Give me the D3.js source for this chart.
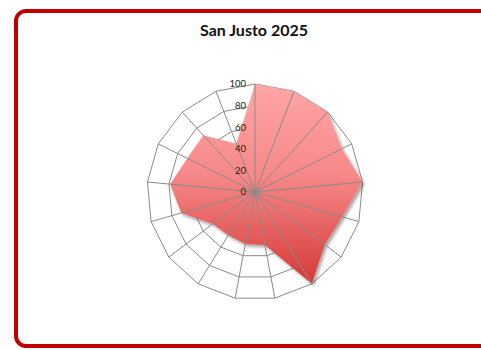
<!DOCTYPE html>
<html>
<head>
<meta charset="utf-8">
<script src="https://cdn.jsdelivr.net/npm/d3@7"></script>
<style>
  html, body { margin: 0; padding: 0; background: #fff; }
  svg { display: block; }
</style>
</head>
<body>
<svg id="chart" width="481" height="350"></svg>
<script>
// Seventeen radar axes, one score (0–100) per axis
const categories = ["1","2","3","4","5","6","7","8","9","10","11","12","13","14","15","16","17"];
const values = [100, 100, 100, 90, 100, 84, 81, 100, 50, 49, 47, 49, 71, 79, 70, 71, 48];
const tickValues = [0, 20, 40, 60, 80, 100];
const title = "San Justo 2025";

const svg = d3.select("#chart");
const cx = 255, cy = 192, R = 108;

const r = d3.scaleLinear().domain([0, 100]).range([0, R]);
const angle = d3.scaleLinear().domain([0, categories.length]).range([0, 2 * Math.PI]);

const defs = svg.append("defs");
const grad = defs.append("linearGradient")
  .attr("id", "fillGrad").attr("x1", 0).attr("y1", 0).attr("x2", 0).attr("y2", 1);
grad.append("stop").attr("offset", "0%").attr("stop-color", "#ffa6a6");
grad.append("stop").attr("offset", "45%").attr("stop-color", "#f7898a");
grad.append("stop").attr("offset", "100%").attr("stop-color", "#d43935");

const shadow = defs.append("filter").attr("id", "shadow")
  .attr("x", "-20%").attr("y", "-20%").attr("width", "140%").attr("height", "140%");
shadow.append("feDropShadow").attr("dx", 2).attr("dy", 2.5)
  .attr("stdDeviation", 1.8).attr("flood-color", "#000").attr("flood-opacity", 0.35);

// Chart frame
svg.append("rect")
  .attr("x", 16).attr("y", 11).attr("width", 480).attr("height", 335)
  .attr("rx", 10).attr("ry", 10)
  .attr("fill", "#fff").attr("stroke", "#c00000").attr("stroke-width", 4);

svg.append("text")
  .attr("x", 254).attr("y", 36)
  .attr("text-anchor", "middle")
  .attr("font-family", "Lato, 'Open Sans', sans-serif")
  .attr("font-weight", "bold").attr("font-size", 16)
  .attr("fill", "#111")
  .text(title);

const g = svg.append("g").attr("transform", `translate(${cx},${cy})`);

const radial = d3.lineRadial()
  .angle((d, i) => angle(i))
  .radius(d => r(d))
  .curve(d3.curveLinearClosed);

// Concentric grid polygons
g.selectAll("path.ring")
  .data(tickValues.filter(t => t > 0))
  .join("path")
  .attr("class", "ring")
  .attr("d", t => radial(categories.map(() => t)))
  .attr("fill", "none").attr("stroke", "#8a8a8a").attr("stroke-width", 1);

// Data area
g.append("path")
  .attr("d", radial(values))
  .attr("fill", "url(#fillGrad)")
  .attr("filter", "url(#shadow)");

// Spokes
g.selectAll("line.spoke")
  .data(categories)
  .join("line")
  .attr("class", "spoke")
  .attr("x1", 0).attr("y1", 0)
  .attr("x2", (d, i) => r(100) * Math.sin(angle(i)))
  .attr("y2", (d, i) => -r(100) * Math.cos(angle(i)))
  .attr("stroke", "#8a8a8a").attr("stroke-width", 1);

g.append("circle").attr("r", 2.5).attr("fill", "#8a8a8a");

// Value axis labels
g.selectAll("text.tick")
  .data(tickValues)
  .join("text")
  .attr("class", "tick")
  .attr("x", -9)
  .attr("y", t => -r(t))
  .attr("dy", "0.35em")
  .attr("text-anchor", "end")
  .attr("font-family", "Lato, 'Open Sans', sans-serif")
  .attr("font-size", 9.5)
  .attr("fill", "#222")
  .text(t => t);
</script>
</body>
</html>
